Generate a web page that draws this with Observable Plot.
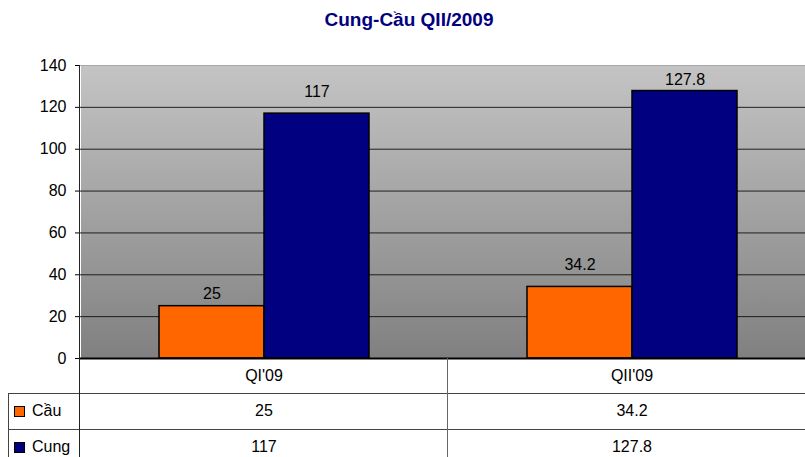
<!DOCTYPE html>
<html>
<head>
<meta charset="utf-8">
<script src="https://cdn.jsdelivr.net/npm/d3@7"></script>
<script src="https://cdn.jsdelivr.net/npm/@observablehq/plot@0.6"></script>
<style>
  html, body { margin: 0; padding: 0; background: #fff; overflow: hidden; }
  #wrap { position: relative; width: 805px; height: 457px; overflow: hidden; font-family: "Liberation Sans", Arial, sans-serif; }
  #title { position: absolute; top: 10px; left: 0; width: 818px; text-align: center; font-weight: bold; font-size: 19px; line-height: 19px; color: #000080; }
  #chart { position: absolute; top: 0; left: 0; }
  #chart svg { max-width: none; }
  .hl { position: absolute; height: 0; border-top: 1.5px solid #444; }
  .vl { position: absolute; width: 0; border-left: 1.5px solid #444; }
  .cell { position: absolute; text-align: center; font-size: 16px; color: #000; display: flex; align-items: center; justify-content: center; }
  .lab { position: absolute; font-size: 16px; color: #000; display: flex; align-items: center; }
  .key { display: inline-block; width: 9px; height: 9px; border: 1px solid #000; margin-right: 7px; }
</style>
</head>
<body>
<div id="wrap">
  <div id="title">Cung-Cầu QII/2009</div>
  <div id="chart"></div>
</div>
<script>
const quarters = ["QI'09", "QII'09"];
const series = ["Cầu", "Cung"];
const cau = [25, 34.2];
const cung = [117, 127.8];
const cauLabels = ["25", "34.2"];
const cungLabels = ["117", "127.8"];
const yTicks = [0, 20, 40, 60, 80, 100, 120, 140];
const colors = ["#ff6600", "#000080"];

const data = quarters.flatMap((q, i) => [
  {q, s: series[0], v: cau[i], t: cauLabels[i]},
  {q, s: series[1], v: cung[i], t: cungLabels[i]}
]);

// label offsets above each bar (as placed in the original chart)
const labelDy = [-12, -22, -22, -11];

const chart = Plot.plot({
  width: 816,
  height: 360,
  marginTop: 65,
  marginBottom: 2,
  marginLeft: 80,
  marginRight: 0,
  style: {fontFamily: "'Liberation Sans', Arial, sans-serif", fontSize: "16px", background: "transparent", color: "#000", overflow: "visible"},
  fx: {domain: quarters, padding: 0, axis: null},
  x: {domain: series, paddingInner: 0, paddingOuter: 0.744, axis: null},
  y: {domain: [0, 140]},
  color: {domain: series, range: colors},
  marks: [
    Plot.frame({fill: "url(#bggrad)", stroke: "none", shapeRendering: "crispEdges"}),
    Plot.gridY(yTicks.filter(d => d > 0 && d < 140), {stroke: "#111", strokeOpacity: 0.9, strokeWidth: 1}),
    Plot.gridY([140], {stroke: "#a8a8a8", strokeOpacity: 1, strokeWidth: 1}),
    Plot.axisY(yTicks, {tickSize: 5, tickPadding: 9, fontSize: 16, stroke: "#000", fill: "#000", label: null}),
    Plot.barY(data, {fx: "q", x: "s", y: "v", fill: "s", stroke: "#000", strokeWidth: 1.5}),
    ...data.map((d, i) => Plot.text([d], {fx: "q", x: "s", y: "v", text: "t", dy: labelDy[i], fontSize: 16, fill: "#000"})),
    Plot.ruleY([0], {stroke: "#000", strokeWidth: 2})
  ]
});

// gradient definition for plot background
const svg = d3.select(chart);
const defs = svg.insert("defs", ":first-child");
const g = defs.append("linearGradient").attr("id", "bggrad").attr("x1", 0).attr("y1", 0).attr("x2", 0).attr("y2", 1);
g.append("stop").attr("offset", "0%").attr("stop-color", "#c4c4c4");
g.append("stop").attr("offset", "100%").attr("stop-color", "#808080");

document.getElementById("chart").appendChild(chart);

// data table below the chart, aligned with the facet scale
const wrap = document.getElementById("wrap");
const fx = chart.scale("fx");
const y = chart.scale("y");
const x0 = fx.range[0];
const x1 = fx.range[1];
const bw = fx.bandwidth;
const yAxis = y.apply(0);
const plotTop = y.apply(140);
const tableLeft = 8;
const headerH = 35;
const rowH = 36;
const row1 = yAxis + headerH;
const row2 = row1 + rowH;

function el(cls, css, html) {
  const d = document.createElement("div");
  d.className = cls;
  Object.assign(d.style, css);
  if (html != null) d.innerHTML = html;
  wrap.appendChild(d);
  return d;
}

quarters.forEach((q, i) => {
  const left = fx.apply(q);
  el("cell", {left: left + "px", top: yAxis + "px", width: bw + "px", height: headerH + "px"}, q);
  el("cell", {left: left + "px", top: row1 + "px", width: bw + "px", height: rowH + "px"}, cauLabels[i]);
  el("cell", {left: left + "px", top: row2 + "px", width: bw + "px", height: rowH + "px"}, cungLabels[i]);
});

[[series[0], colors[0], row1], [series[1], colors[1], row2]].forEach(([name, c, top]) => {
  el("lab", {left: (tableLeft + 6) + "px", top: top + "px", height: rowH + "px"},
     `<span class="key" style="background:${c}"></span>${name}`);
});

el("hl", {left: tableLeft + "px", top: (row1 - 0.5) + "px", width: (x1 - tableLeft) + "px"});
el("hl", {left: tableLeft + "px", top: (row2 - 0.5) + "px", width: (x1 - tableLeft) + "px"});
el("vl", {left: (tableLeft - 0.5) + "px", top: row1 + "px", height: (457 - row1) + "px"});
el("vl", {left: (x0 - 0.75) + "px", top: plotTop + "px", height: (457 - plotTop) + "px", borderLeftColor: "#222"});
el("vl", {left: (fx.apply(quarters[1]) - 0.75) + "px", top: yAxis + "px", height: (457 - yAxis) + "px", borderLeftColor: "#666"});
</script>
</body>
</html>
